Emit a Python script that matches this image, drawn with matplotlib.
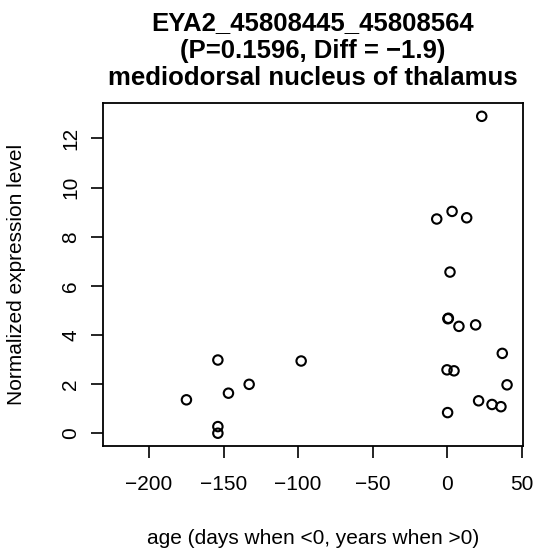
import numpy as np
import matplotlib.pyplot as plt

plt.rcParams['font.family'] = ['Liberation Sans', 'DejaVu Sans']

# age (days when <0, years when >0) and normalized expression
age = [23.3, -6.9, 3.4, 13.2, 2.0, 0.9, 0.6, 8.0, 19.2, 37.1, 0.0, 4.7,
       40.3, 21.2, 30.2, 36.2, 0.4,
       -153.8, -97.9, -132.8, -146.7, -174.9, -153.8, -153.8]
expr = [12.9, 8.72, 9.03, 8.77, 6.56, 4.68, 4.66, 4.35, 4.41, 3.25, 2.58, 2.54,
        1.97, 1.32, 1.17, 1.08, 0.84,
        2.98, 2.94, 1.99, 1.63, 1.36, 0.27, 0.0]

xticks = [-200, -150, -100, -50, 0, 50]
yticks = [0, 2, 4, 6, 8, 10, 12]

W, H = 539, 557
fig = plt.figure(figsize=(W / 100, H / 100), dpi=100)
ax = fig.add_axes((103.3 / W, 1 - 446 / H, (522.7 - 103.3) / W, (446 - 103.3) / H))

ax.scatter(age, expr, s=46, facecolors='none', edgecolors='black', linewidths=1.5)

ax.set_xlim(-230.7, 50.8)
ax.set_ylim(-0.52, 13.43)
ax.set_xticks(xticks)
ax.set_xticklabels(['\u2212' + str(-t) if t < 0 else str(t) for t in xticks])
ax.set_yticks(yticks)
ax.set_yticklabels([str(t) for t in yticks], rotation=90, va='center')
ax.tick_params(axis='both', direction='out', length=8.6, width=1.2, labelsize=15)
ax.tick_params(axis='x', pad=12.5)
ax.tick_params(axis='y', pad=8)
for s in ax.spines.values():
    s.set_linewidth(1.3)

# title lines
cx = (103.3 + 522.7) / 2 / W
lines = ['EYA2_45808445_45808564', '(P=0.1596, Diff = \u22121.9)',
         'mediodorsal nucleus of thalamus']
for txt, yb in zip(lines, [30, 58, 85]):
    fig.text(cx, 1 - yb / H, txt, ha='center', va='baseline',
             fontsize=18.5, fontweight='bold')

fig.text(cx, 1 - 538 / H, 'age (days when <0, years when >0)',
         ha='center', va='center', fontsize=15)
fig.text(17 / W, 1 - ((103.3 + 446) / 2) / H, 'Normalized expression level',
         ha='center', va='center', rotation=90, fontsize=15)

fig.savefig('out.png', dpi=100)
